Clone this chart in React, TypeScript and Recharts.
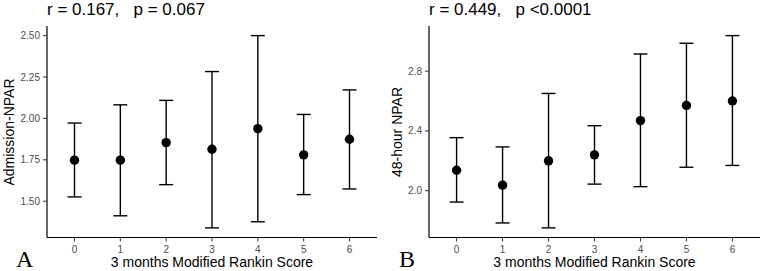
import React from "react"
import { ScatterChart, Scatter, XAxis, YAxis, ErrorBar } from "recharts"

// mRS groups at 3 months
const rankinScores = [0, 1, 2, 3, 4, 5, 6]

// Admission NPAR: mean with lower / upper interval ends
const admissionMean = [1.748, 1.748, 1.854, 1.814, 1.938, 1.78, 1.874]
const admissionLower = [1.526, 1.412, 1.6, 1.339, 1.376, 1.54, 1.574]
const admissionUpper = [1.972, 2.082, 2.109, 2.283, 2.5, 2.024, 2.172]
const admissionTicks = [1.5, 1.75, 2.0, 2.25, 2.5]

// 48-hour NPAR
const hour48Mean = [2.137, 2.037, 2.2, 2.24, 2.469, 2.571, 2.6]
const hour48Lower = [1.924, 1.784, 1.751, 2.044, 2.027, 2.157, 2.169]
const hour48Upper = [2.355, 2.293, 2.651, 2.435, 2.915, 2.987, 3.038]
const hour48Ticks = [2.0, 2.4, 2.8]

const sans = "'Liberation Sans', Arial, sans-serif"
const tickStyle = { fontSize: 10, fill: "#4d4d4d", fontFamily: sans }

const Y_AXIS_W = 30
const X_AXIS_H = 28

interface PanelProps {
  left: number
  width: number
  plotLeft: number
  mean: number[]
  lower: number[]
  upper: number[]
  ticks: number[]
  digits: number
  yLabel: string
  yLabelX: number
  title: string
  letter: string
}

// ggplot-style 5% padding around the data range
const paddedDomain = (lower: number[], upper: number[]): [number, number] => {
  const lo = Math.min(...lower)
  const hi = Math.max(...upper)
  const pad = (hi - lo) * 0.05
  return [lo - pad, hi + pad]
}

const Dot = (props: any) => (
  <circle cx={props.cx} cy={props.cy} r={4.7} fill="#000" />
)

const Panel: React.FC<PanelProps> = ({
  left,
  width,
  plotLeft,
  mean,
  lower,
  upper,
  ticks,
  digits,
  yLabel,
  yLabelX,
  title,
  letter,
}) => {
  const rows = rankinScores.map((x, i) => ({
    x,
    mean: mean[i],
    err: [mean[i] - lower[i], upper[i] - mean[i]],
  }))
  const plotRight = width - 7
  const centerX = (plotLeft + plotRight) / 2

  return (
    <div style={{ position: "absolute", left, top: 0, width, height: 271 }}>
      <ScatterChart
        width={width}
        height={271}
        margin={{
          left: plotLeft - Y_AXIS_W,
          right: width - plotRight,
          top: 26,
          bottom: 33.5 - X_AXIS_H,
        }}
      >
        <XAxis
          type="number"
          dataKey="x"
          domain={[-0.6, 6.6]}
          ticks={rankinScores}
          height={X_AXIS_H}
          tick={tickStyle}
          tickSize={4}
          tickMargin={4}
          axisLine={{ stroke: "#000", strokeWidth: 1.2 }}
          tickLine={{ stroke: "#333" }}
          allowDataOverflow
        />
        <YAxis
          type="number"
          dataKey="mean"
          domain={paddedDomain(lower, upper)}
          ticks={ticks}
          width={Y_AXIS_W}
          tick={tickStyle}
          tickSize={4}
          tickMargin={3}
          tickFormatter={(v: number) => v.toFixed(digits)}
          axisLine={{ stroke: "#000", strokeWidth: 1.2 }}
          tickLine={{ stroke: "#333" }}
          allowDataOverflow
        />
        <Scatter data={rows} shape={Dot} isAnimationActive={false}>
          <ErrorBar
            dataKey="err"
            direction="y"
            width={7}
            stroke="#000"
            strokeWidth={1.4}
            isAnimationActive={false}
          />
        </Scatter>
      </ScatterChart>

      <div
        style={{
          position: "absolute",
          left: plotLeft,
          top: 0,
          fontFamily: sans,
          fontSize: 17,
          lineHeight: "20px",
          whiteSpace: "pre",
          color: "#000",
        }}
      >
        {title}
      </div>

      <div
        style={{
          position: "absolute",
          left: yLabelX,
          top: 132,
          transform: "translate(-50%, -50%) rotate(-90deg)",
          fontFamily: sans,
          fontSize: 14,
          whiteSpace: "nowrap",
          color: "#000",
        }}
      >
        {yLabel}
      </div>

      <div
        style={{
          position: "absolute",
          left: centerX,
          top: 262,
          transform: "translate(-50%, -50%)",
          fontFamily: sans,
          fontSize: 14,
          whiteSpace: "nowrap",
          color: "#000",
        }}
      >
        3 months Modified Rankin Score
      </div>

      <div
        style={{
          position: "absolute",
          left: 16,
          top: 247,
          fontFamily: "'Liberation Serif', 'Times New Roman', serif",
          fontSize: 24,
          lineHeight: "24px",
          color: "#000",
        }}
      >
        {letter}
      </div>
    </div>
  )
}

const App: React.FC = () => (
  <div
    style={{
      position: "absolute",
      left: 0,
      top: 0,
      width: 767,
      height: 271,
      background: "#fff",
      overflow: "hidden",
    }}
  >
    <Panel
      left={0}
      width={384}
      plotLeft={47}
      mean={admissionMean}
      lower={admissionLower}
      upper={admissionUpper}
      ticks={admissionTicks}
      digits={2}
      yLabel="Admission-NPAR"
      yLabelX={8.5}
      title="r = 0.167,   p = 0.067"
      letter="A"
    />
    <Panel
      left={383}
      width={384}
      plotLeft={46}
      mean={hour48Mean}
      lower={hour48Lower}
      upper={hour48Upper}
      ticks={hour48Ticks}
      digits={1}
      yLabel="48-hour NPAR"
      yLabelX={13.5}
      title="r = 0.449,   p <0.0001"
      letter="B"
    />
  </div>
)

export default App
